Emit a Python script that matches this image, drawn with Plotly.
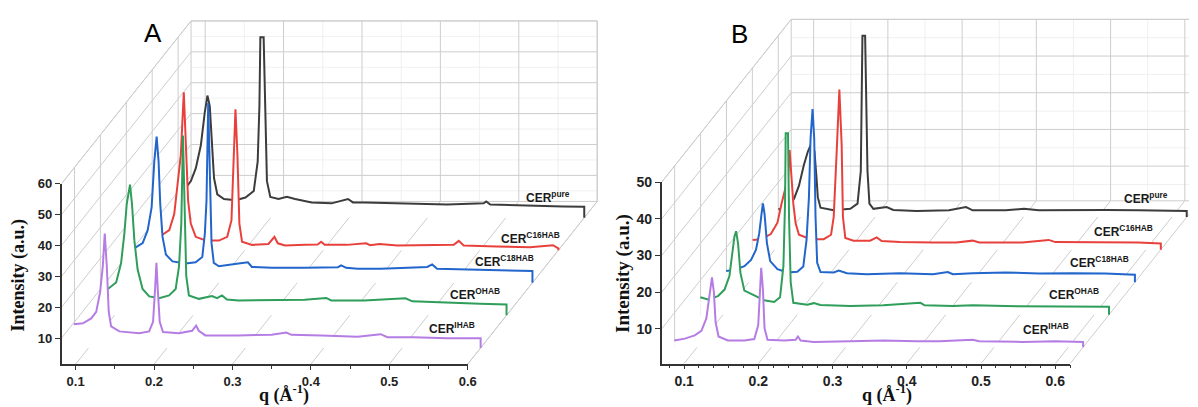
import plotly.graph_objects as go

W, H = 1198, 407

# ---------------- data (q in 1/Å, intensity in a.u.), series ordered back -> front ----------------
series_names = ["CER<sup>pure</sup>", "CER<sup>C16HAB</sup>", "CER<sup>C18HAB</sup>",
                "CER<sup>OHAB</sup>", "CER<sup>IHAB</sup>"]
series_depth = [4.5, 3.5, 2.5, 1.5, 0.5]
series_colors = ["#3c3c3c", "#e8413c", "#2266cc", "#2e9e5a", "#b57de4"]

# Panel A
A_pure_q = [0.092, 0.0983, 0.1046, 0.111, 0.116, 0.1194, 0.1224, 0.1249, 0.1278, 0.132, 0.1405, 0.1553,
            0.1679, 0.1785, 0.1835, 0.1857, 0.1869, 0.1911, 0.1932, 0.1953, 0.1996, 0.2101, 0.2207, 0.2312,
            0.2523, 0.2776, 0.2987, 0.305, 0.3198, 0.362, 0.4126, 0.4253, 0.4717, 0.475, 0.4801, 0.5308,
            0.573, 0.6]
A_pure_i = [11.3, 13.4, 17.6, 25.0, 35.6, 41.1, 37.7, 27.1, 14.4, 9.1, 7.6, 7.2, 8.1, 10.2, 19.7, 37.7,
            60, 60, 37.7, 13.4, 8.3, 7.6, 8.3, 7.6, 6.5, 6.2, 7.6, 6.5, 6.5, 6.3, 6.0, 5.8, 6.2, 6.8, 5.8,
            5.4, 5.2, 5.1]
A_c16_q = [0.0945, 0.1038, 0.1101, 0.1135, 0.1185, 0.1223, 0.1249, 0.1278, 0.1312, 0.1375, 0.1502, 0.1671,
           0.1777, 0.1831, 0.1861, 0.1882, 0.1907, 0.1932, 0.1966, 0.2093, 0.2303, 0.2379, 0.2422, 0.2515,
           0.2768, 0.293, 0.2975, 0.302, 0.33, 0.3548, 0.36, 0.3717, 0.3949, 0.437, 0.4666, 0.473, 0.4793,
           0.5215, 0.5637, 0.5932, 0.6]
A_c16_i = [6.5, 8.1, 13.3, 20.7, 32.4, 52.7, 35.6, 17.6, 10.2, 5.9, 4.7, 4.7, 5.9, 11.2, 32.4, 47.2, 32.4,
           10.2, 4.3, 3.3, 3.6, 5.9, 3.8, 3.1, 3.3, 3.4, 4.3, 3.3, 3.3, 3.8, 3.2, 3.6, 3.1, 3.1, 3.3, 4.6,
           3.1, 2.8, 2.5, 3.2, 2.2]
A_c18_q = [0.0924, 0.1029, 0.1093, 0.1143, 0.1177, 0.1207, 0.1232, 0.1253, 0.1282, 0.1325, 0.1409, 0.1578,
           0.1704, 0.1789, 0.1822, 0.1843, 0.1865, 0.189, 0.1907, 0.1936, 0.2, 0.2253, 0.2371, 0.2422,
           0.2675, 0.3097, 0.3519, 0.3561, 0.3624, 0.3772, 0.4067, 0.4658, 0.4721, 0.4784, 0.5333, 0.6]
A_c18_i = [12.8, 14.4, 18.6, 26.0, 40.8, 48.9, 40.8, 27.1, 16.5, 10.7, 8.5, 7.8, 8.2, 9.9, 17.5, 28.1,
           59.8, 28.1, 14.4, 8.0, 6.9, 7.8, 8.2, 6.7, 6.4, 6.4, 6.6, 7.2, 6.4, 6.1, 6.1, 6.7, 7.5, 6.1,
           5.7, 5.4]
A_ohab_q = [0.0915, 0.1021, 0.1084, 0.1126, 0.1156, 0.1198, 0.1223, 0.1253, 0.1295, 0.1358, 0.1443, 0.1569,
            0.1696, 0.178, 0.1823, 0.1852, 0.1873, 0.1894, 0.1915, 0.1949, 0.2076, 0.2244, 0.2308, 0.2371,
            0.2434, 0.2582, 0.3004, 0.3426, 0.37, 0.3763, 0.4185, 0.4712, 0.4797, 0.524, 0.5662, 0.6]
A_ohab_i = [10.1, 12.2, 18.5, 28.1, 37.6, 43.9, 37.6, 25.9, 16.4, 10.1, 7.7, 7.1, 8.0, 10.1, 17.5, 31.2,
            59.8, 31.2, 14.3, 8.0, 6.9, 7.8, 7.1, 8.0, 6.7, 6.4, 6.4, 6.6, 7.2, 6.4, 6.4, 7.1, 6.1, 5.6,
            5.3, 5.1]
A_ihab_q = [0.081, 0.0928, 0.1033, 0.1097, 0.1147, 0.1181, 0.1206, 0.1232, 0.1257, 0.1287, 0.1392, 0.1645,
            0.1772, 0.1822, 0.1848, 0.1865, 0.1882, 0.1907, 0.1949, 0.2152, 0.232, 0.2371, 0.2405, 0.2489,
            0.2911, 0.3333, 0.3523, 0.3586, 0.3966, 0.443, 0.4725, 0.481, 0.5147, 0.557, 0.6]
A_ihab_i = [9.2, 9.5, 11.1, 13.2, 19.6, 28.0, 38.6, 28.0, 13.2, 8.5, 6.9, 6.3, 6.9, 10.0, 20.6, 29.1,
            20.6, 10.0, 6.7, 6.3, 7.1, 8.8, 7.1, 5.6, 5.6, 5.8, 6.5, 5.8, 5.6, 5.2, 6.0, 5.0, 5.0, 4.7, 4.7]

# Panel B
B_pure_q = [0.07, 0.08, 0.091, 0.0977, 0.1044, 0.1097, 0.1155, 0.1186, 0.1213, 0.1231, 0.1267, 0.1445,
            0.1668, 0.1766, 0.181, 0.1828, 0.1832, 0.1868, 0.1877, 0.19, 0.1926, 0.1979, 0.2158, 0.2247,
            0.2559, 0.2999, 0.3227, 0.3317, 0.3762, 0.4007, 0.4208, 0.4653, 0.5099, 0.5545, 0.62]
B_pure_i = [2.6, 3.4, 5.5, 9.1, 14.8, 18.4, 21.1, 18.4, 11.3, 5.9, 3.1, 2.4, 2.8, 4.2, 13.1, 39.8, 50,
            50, 39.8, 13.1, 4.2, 2.8, 3.3, 2.5, 2.2, 2.4, 3.3, 2.4, 2.4, 2.8, 2.4, 2.5, 2.5, 2.4, 2.2]
B_c16_q = [0.0702, 0.0813, 0.0947, 0.1036, 0.109, 0.1179, 0.12, 0.1223, 0.125, 0.1281, 0.1326, 0.1482,
           0.166, 0.1758, 0.1794, 0.1838, 0.187, 0.1901, 0.1918, 0.195, 0.2061, 0.2284, 0.2373, 0.244,
           0.2685, 0.3131, 0.3443, 0.3665, 0.3755, 0.4334, 0.469, 0.478, 0.5448, 0.5894, 0.62]
B_c16_i = [3.2, 3.4, 4.8, 7.9, 13.0, 20.2, 27.7, 20.2, 13.0, 7.7, 4.6, 3.4, 3.4, 4.6, 9.5, 29.1, 44.2,
           29.1, 9.5, 3.7, 3.0, 3.0, 3.9, 2.9, 2.6, 2.5, 2.5, 3.0, 2.5, 2.5, 3.2, 2.6, 2.5, 2.5, 2.2]
B_c18_q = [0.0694, 0.0806, 0.094, 0.1029, 0.1096, 0.114, 0.1171, 0.1189, 0.1211, 0.1243, 0.1287, 0.1385,
           0.1519, 0.1653, 0.1733, 0.1777, 0.1809, 0.1831, 0.1858, 0.188, 0.1898, 0.192, 0.1965, 0.2143,
           0.221, 0.2321, 0.2588, 0.3034, 0.348, 0.368, 0.3747, 0.4014, 0.446, 0.4906, 0.5351, 0.5797, 0.62]
B_c18_i = [3.6, 3.9, 4.9, 6.6, 9.4, 13.9, 19.2, 22.0, 19.2, 11.2, 6.3, 4.1, 3.2, 3.4, 4.8, 12.1, 23.7,
           39.7, 47.7, 39.7, 18.3, 5.8, 3.3, 3.2, 3.7, 3.0, 2.7, 3.0, 2.7, 3.3, 2.7, 3.0, 3.2, 2.9, 3.0,
           2.9, 2.6]
B_ohab_q = [0.0695, 0.0798, 0.0932, 0.1021, 0.1087, 0.1132, 0.1154, 0.1177, 0.1203, 0.1235, 0.1288, 0.1422,
            0.1555, 0.1689, 0.1769, 0.1814, 0.1836, 0.1845, 0.1876, 0.189, 0.1912, 0.1948, 0.2135, 0.2224,
            0.2313, 0.2714, 0.316, 0.3659, 0.3717, 0.4096, 0.4363, 0.4809, 0.5254, 0.57, 0.62]
B_ohab_i = [5.3, 4.7, 5.6, 7.4, 11.1, 17.4, 21.8, 23.3, 20.0, 12.0, 7.1, 5.8, 4.5, 4.0, 5.3, 13.8, 30.7,
            50, 50, 27.2, 9.4, 3.8, 3.3, 3.7, 3.2, 2.9, 3.1, 3.8, 3.1, 2.9, 3.1, 2.9, 2.8, 2.9, 2.7]
B_ihab_q = [0.0692, 0.0835, 0.0969, 0.1058, 0.1125, 0.117, 0.1201, 0.1227, 0.1249, 0.1289, 0.1414, 0.1637,
            0.1771, 0.1824, 0.1847, 0.1864, 0.1887, 0.1909, 0.1949, 0.2172, 0.2328, 0.2359, 0.2395, 0.2573,
            0.3063, 0.3509, 0.3954, 0.4266, 0.4712, 0.4801, 0.538, 0.5826, 0.62]
B_ihab_i = [2.4, 2.9, 3.8, 5.0, 8.4, 15.5, 19.6, 15.5, 7.5, 3.5, 2.4, 2.4, 2.8, 6.6, 16.4, 22.2, 16.4,
            5.7, 2.6, 2.4, 2.6, 3.5, 2.4, 2.0, 2.2, 2.4, 2.2, 2.2, 2.6, 2.2, 2.0, 2.2, 2.0]

A_qticks = [0.1, 0.2, 0.3, 0.4, 0.5, 0.6]
A_qminor = [0.15, 0.25, 0.35, 0.45, 0.55]
A_iticks = [10, 20, 30, 40, 50, 60]
B_qticks = [0.1, 0.2, 0.3, 0.4, 0.5, 0.6]
B_qminor = [0.08, 0.12, 0.14, 0.16, 0.18, 0.22, 0.24, 0.26, 0.28, 0.32, 0.34, 0.36, 0.38,
            0.42, 0.44, 0.46, 0.48, 0.52, 0.54, 0.56, 0.58, 0.62]
B_iticks = [10, 20, 30, 40, 50]

# ---------------- panel geometry (pixels) ----------------
panels = [
    dict(label="A", xa="x", ya="y", fx="x3", fy="y3",
         left=62, bottom=363.3, right=606, top=6, kx=790.0, ky=3.15,
         qmin=0.082, qmax=0.6, imin=1.56, imax=60,
         qticks=A_qticks, qminor=A_qminor, iticks=A_iticks, fsize=13,
         data=[(A_pure_q, A_pure_i), (A_c16_q, A_c16_i), (A_c18_q, A_c18_i),
               (A_ohab_q, A_ohab_i), (A_ihab_q, A_ihab_i)],
         lab_dx=[-12, 4, 4, -5, -4], lab_dy=10,
         title_xy=(154, 26), ytitle_xy=(19, 272), ytitle_size=18, xtitle_x=286),
    dict(label="B", xa="x2", ya="y2", fx="x4", fy="y4",
         left=666.7, bottom=362.7, right=1198, top=6, kx=748.0, ky=3.7425,
         qmin=0.0698, qmax=0.62, imin=0.54, imax=50,
         qticks=B_qticks, qminor=B_qminor, iticks=B_iticks, fsize=14,
         data=[(B_pure_q, B_pure_i), (B_c16_q, B_c16_i), (B_c18_q, B_c18_i),
               (B_ohab_q, B_ohab_i), (B_ihab_q, B_ihab_i)],
         lab_dx=[-17, -6, -4, -8, -12], lab_dy=13,
         title_xy=(745, 27), ytitle_xy=(627, 271), ytitle_size=19, xtitle_x=894),
]
DEPTH = 5.0
DX_PX, DY_PX = 26.1, 33.2  # screen shift per depth unit

fig = go.Figure()
layout = dict(width=W, height=H, margin=dict(l=0, r=0, t=0, b=0), autosize=False,
              paper_bgcolor="white", plot_bgcolor="rgba(0,0,0,0)", showlegend=False,
              annotations=[])

GRID = "#cdcdcd"
GRID_MINOR = "#ececec"

for P in panels:
    DQ = DX_PX / P["kx"]
    DI = DY_PX / P["ky"]

    def proj(q, i, d):
        return q + d * DQ, i + d * DI

    qmin, qmax, imin, imax = P["qmin"], P["qmax"], P["imin"], P["imax"]

    def seg_trace(segs, color, width):
        xs, ys = [], []
        for (q0, i0, d0), (q1, i1, d1) in segs:
            x0, y0 = proj(q0, i0, d0)
            x1, y1 = proj(q1, i1, d1)
            xs += [x0, x1, None]
            ys += [y0, y1, None]
        return go.Scatter(x=xs, y=ys, mode="lines", line=dict(color=color, width=width),
                          hoverinfo="skip", xaxis=P["xa"], yaxis=P["ya"])

    # minor grid on back wall
    minor = []
    qm = [round((a + b) / 2, 3) for a, b in zip(P["qticks"][:-1], P["qticks"][1:])]
    im = [t - 5 for t in P["iticks"]]
    for q in qm:
        minor.append(((q, imin, DEPTH), (q, imax, DEPTH)))
    for i in im:
        if i > imin:
            minor.append(((qmin, i, DEPTH), (qmax, i, DEPTH)))
    fig.add_trace(seg_trace(minor, GRID_MINOR, 0.8))

    major = []
    # back wall
    for q in P["qticks"] + [qmin, qmax]:
        if qmin <= q <= qmax:
            major.append(((q, imin, DEPTH), (q, imax, DEPTH)))
    for i in P["iticks"] + [imin, imax]:
        major.append(((qmin, i, DEPTH), (qmax, i, DEPTH)))
    # left wall
    for i in P["iticks"] + [imax]:
        major.append(((qmin, i, 0), (qmin, i, DEPTH)))
    for d in series_depth:
        major.append(((qmin, imin, d), (qmin, imax, d)))
    # floor
    for q in P["qticks"] + [qmax]:
        if q <= qmax:
            major.append(((q, imin, 0), (q, imin, DEPTH)))
    fig.add_trace(seg_trace(major, GRID, 1))

    # series (back to front) with white curtain below each curve
    for k, ((qs, ins), d, col, name) in enumerate(zip(P["data"], series_depth, series_colors, series_names)):
        cx = [proj(q, i, d)[0] for q, i in zip(qs, ins)]
        cy = [proj(q, i, d)[1] for q, i in zip(qs, ins)]
        ex, ey = proj(qs[-1], imin, d)
        sx, sy = proj(qs[0], imin, d)
        fig.add_trace(go.Scatter(x=cx + [ex, sx], y=cy + [ey, sy], fill="toself",
                                 fillcolor="white", mode="lines", line=dict(width=0, color="white"),
                                 hoverinfo="skip", xaxis=P["xa"], yaxis=P["ya"]))
        fig.add_trace(go.Scatter(x=cx + [ex], y=cy + [ey], mode="lines",
                                 line=dict(color=col, width=2), hoverinfo="skip",
                                 xaxis=P["xa"], yaxis=P["ya"]))
        lx, ly = proj(qs[-1], ins[-1], d)
        layout["annotations"].append(dict(
            x=lx, y=ly, xref=P["xa"], yref=P["ya"], text="<b>" + name + "</b>", showarrow=False,
            xanchor="right", yanchor="middle", xshift=P["lab_dx"][k], yshift=P["lab_dy"],
            font=dict(family="Liberation Sans", size=12, color="#1a1a1a")))

    # axes
    L, B = P["left"], P["bottom"]
    xr_data = [qmin, qmin + (P["right"] - L) / P["kx"]]
    yr_data = [imin, imin + (B - P["top"]) / P["ky"]]
    xdom = [L / W, P["right"] / W]
    ydom = [(H - B) / H, (H - P["top"]) / H]
    key_x = "xaxis" if P["xa"] == "x" else "xaxis" + P["xa"][1:]
    key_y = "yaxis" if P["ya"] == "y" else "yaxis" + P["ya"][1:]
    layout[key_x] = dict(domain=xdom, range=xr_data, visible=False, anchor=P["ya"], fixedrange=True)
    layout[key_y] = dict(domain=ydom, range=yr_data, visible=False, anchor=P["xa"], fixedrange=True)

    fx_dom = [L / W, (L + (qmax - qmin) * P["kx"]) / W]
    fy_dom = [(H - B) / H, (H - B + (imax - imin) * P["ky"]) / H]
    tickfont = dict(family="Liberation Sans", size=P["fsize"], color="#222", weight="bold")
    layout["xaxis" + P["fx"][1:]] = dict(
        domain=fx_dom, range=[qmin, qmax], anchor=P["fy"], showgrid=False, zeroline=False,
        showline=True, linecolor="#333", linewidth=1.6, ticks="outside", ticklen=4, tickwidth=1.3,
        tickcolor="#333", tickvals=P["qticks"], ticktext=["%.1f" % v for v in P["qticks"]],
        tickfont=tickfont, fixedrange=True,
        minor=dict(tickvals=P["qminor"], ticks="outside", ticklen=3, tickwidth=1, tickcolor="#333",
                   showgrid=False))
    layout["yaxis" + P["fy"][1:]] = dict(
        domain=fy_dom, range=[imin, imax], anchor=P["fx"], showgrid=False, zeroline=False,
        showline=True, linecolor="#333", linewidth=1.6, ticks="outside", ticklen=5, tickwidth=1.3,
        tickcolor="#333", tickvals=P["iticks"], ticktext=[str(v) for v in P["iticks"]],
        tickfont=tickfont, fixedrange=True)

    # dummy trace so the front axes subplot exists
    fig.add_trace(go.Scatter(x=[qmin], y=[imin], mode="markers", marker=dict(opacity=0),
                             hoverinfo="skip", xaxis=P["fx"], yaxis=P["fy"]))

    tx, ty = P["title_xy"]
    layout["annotations"].append(dict(x=tx / W, y=1 - ty / H, xref="paper", yref="paper",
                                      text=P["label"], showarrow=False, xanchor="center",
                                      yanchor="middle",
                                      font=dict(family="Liberation Sans", size=26, color="black")))
    yx, yy = P["ytitle_xy"]
    layout["annotations"].append(dict(x=yx / W, y=1 - yy / H, xref="paper", yref="paper",
                                      text="<b>Intensity (a.u.)</b>", showarrow=False, textangle=-90,
                                      xanchor="center", yanchor="middle",
                                      font=dict(family="Liberation Serif", size=P["ytitle_size"],
                                                color="#111")))
    layout["annotations"].append(dict(x=P["xtitle_x"] / W, y=0, xref="paper", yref="paper",
                                      text="<b>q (Å<sup>-1</sup>)</b>", showarrow=False,
                                      xanchor="center", yanchor="bottom", borderpad=0,
                                      font=dict(family="Liberation Serif", size=18, color="#111")))

fig.update_layout(**layout)
fig.write_html("out.html")
